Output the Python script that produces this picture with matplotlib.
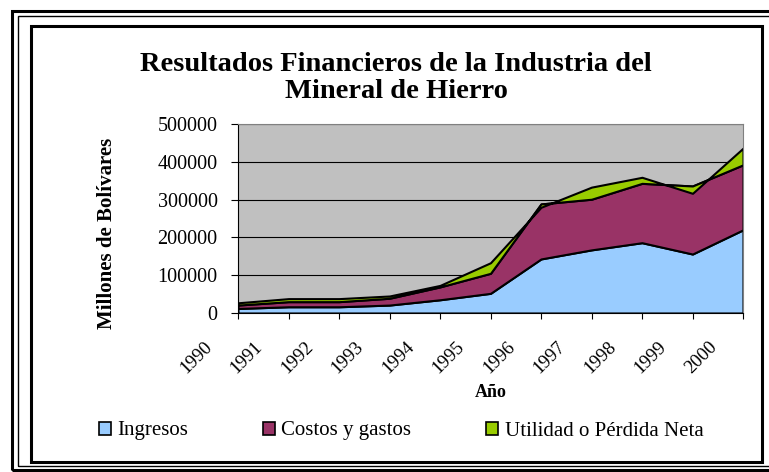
import matplotlib
matplotlib.use('Agg')
import matplotlib.pyplot as plt
from matplotlib.patches import Rectangle, Patch
from matplotlib.transforms import ScaledTranslation
import numpy as np

plt.rcParams['font.family'] = ['Liberation Serif', 'DejaVu Serif']

# datos (millones de Bs)
anios = ['1990', '1991', '1992', '1993', '1994', '1995',
         '1996', '1997', '1998', '1999', '2000']
ingresos = [12000, 16500, 16500, 21000, 35000, 52000,
            143000, 167000, 186000, 156000, 220000]
costos = [9000, 13500, 13500, 18000, 34000, 53000,
          145500, 134000, 157000, 180000, 172000]
utilidad = [6000, 8000, 8000, 6000, 4000, 28000,
            -8800, 32000, 16000, -19400, 44000]
series = ['Ingresos', 'Costos y gastos', 'Utilidad o Pérdida Neta']
colores = ['#99CCFF', '#993366', '#99CC00']

W, H = 769, 472
fig = plt.figure(figsize=(W / 100, H / 100), dpi=100)


def fx(px):
    return px / W


def fy(py):
    return 1 - py / H


ax = fig.add_axes([fx(238), fy(313), fx(743) - fx(238), fy(124) - fy(313)])
ax.set_facecolor('#C0C0C0')

x = np.arange(len(anios))
ax.stackplot(x, ingresos, costos, utilidad, colors=colores,
             edgecolor='black', linewidth=1.5)
ax.set_xlim(0, len(anios) - 1)
ax.set_ylim(0, 500000)
ax.set_yticks(range(0, 500001, 100000))
ax.yaxis.set_major_formatter(lambda v, p: f'{v:.0f}')
ax.yaxis.grid(True, color='black', linewidth=0.8)
ax.set_axisbelow(True)

for s in ['top', 'right']:
    ax.spines[s].set_color('#808080')
for s in ['left', 'bottom']:
    ax.spines[s].set_color('black')

ax.tick_params(axis='y', length=5, pad=9.6, labelsize=14.5, direction='out')
ax.tick_params(axis='x', length=4, pad=0, direction='out')
ax.set_xticks(x)
ax.set_xticklabels(anios, rotation=45, ha='center', va='center', fontsize=13.5)
off = ScaledTranslation(-0.42, -0.39, fig.dpi_scale_trans)
for lbl in ax.get_xticklabels():
    lbl.set_transform(lbl.get_transform() + off)

ax.set_ylabel('Millones de Bolívares', fontsize=15, fontweight='bold', va='center')
ax.yaxis.set_label_coords(-0.259, 0.423)
ax.set_xlabel('Año', fontsize=13, fontweight='bold', va='center')
ax.xaxis.set_label_coords(0.5, -0.42)

fig.text(fx(396), fy(98), 'Resultados Financieros de la Industria del\nMineral de Hierro',
         ha='center', va='baseline', fontsize=20.5, fontweight='bold', linespacing=1.12)

handles = [Patch(facecolor=c, edgecolor='black', linewidth=1.2) for c in colores]
fig.legend(handles, series, loc='center', bbox_to_anchor=(fx(401), fy(431)),
           ncol=3, frameon=False, fontsize=15, handlelength=0.58, handleheight=0.58,
           handletextpad=0.3, columnspacing=3.6)

# marcos
fig.add_artist(Rectangle((fx(12), fy(470)), fx(790) - fx(12), fy(11) - fy(470),
                         transform=fig.transFigure, fill=False, lw=2.2, ec='black'))
fig.add_artist(Rectangle((fx(18), fy(466)), fx(785) - fx(18), fy(16) - fy(466),
                         transform=fig.transFigure, fill=False, lw=1.0, ec='black'))
fig.add_artist(Rectangle((fx(31), fy(462)), fx(762) - fx(31), fy(26) - fy(462),
                         transform=fig.transFigure, fill=False, lw=2.2, ec='black'))

fig.savefig('out.png', dpi=100)
